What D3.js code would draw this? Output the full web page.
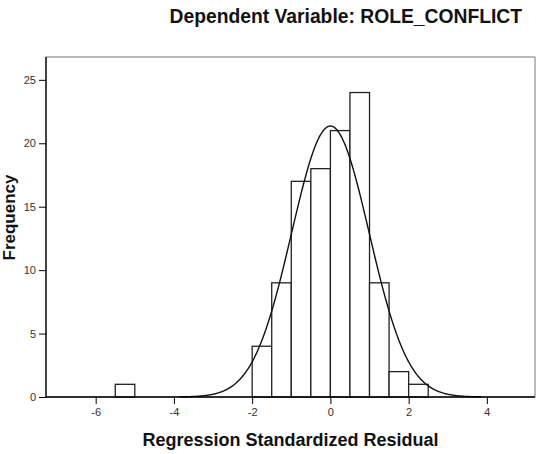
<!DOCTYPE html>
<html>
<head>
<meta charset="utf-8">
<script src="https://cdn.jsdelivr.net/npm/d3@7"></script>
<style>
  body { margin: 0; background: #fff; }
  svg { display: block; font-family: 'Liberation Sans', Arial, sans-serif; }
  .tick text { fill: #333; font-size: 11px; }
</style>
</head>
<body>
<svg width="549" height="454"></svg>
<script>
// histogram bins (lower edge, upper edge) and counts
var binStarts = [-5.5, -2, -1.5, -1, -0.5, 0, 0.5, 1, 1.5, 2];
var binEnds = [-5, -1.5, -1, -0.5, 0, 0.5, 1, 1.5, 2, 2.5];
var counts = [1, 4, 9, 17, 18, 21, 24, 9, 2, 1];
var xTicks = [-6, -4, -2, 0, 2, 4];
var yTicks = [0, 5, 10, 15, 20, 25];
var curveMean = 0;
var curveSd = 0.99;
var curveN = 106;
var binWidth = 0.5;

var svg = d3.select('svg');

var plotLeft = 46, plotRight = 535, plotTop = 57, plotBottom = 397;

var x = d3.scaleLinear().domain([-7.27, 5.23]).range([plotLeft, plotRight]);
var y = d3.scaleLinear().domain([0, 26.8]).range([plotBottom, plotTop]);

// frame
svg.append('rect')
  .attr('x', plotLeft).attr('y', plotTop)
  .attr('width', plotRight - plotLeft).attr('height', plotBottom - plotTop)
  .attr('fill', 'none').attr('stroke', '#777').attr('stroke-width', 1);

var bins = counts.map((c, i) => ({ x0: binStarts[i], x1: binEnds[i], n: c }));

svg.append('g').selectAll('rect')
  .data(bins)
  .enter()
  .append('rect')
  .attr('x', (d) => x(d.x0))
  .attr('y', (d) => y(d.n))
  .attr('width', (d) => x(d.x1) - x(d.x0))
  .attr('height', (d) => y(0) - y(d.n))
  .attr('fill', '#fff')
  .attr('stroke', '#222')
  .attr('stroke-width', 1.3);

// normal curve
var pts = d3.range(-3.87, 3.871, 0.02).map((v) => {
  var z = (v - curveMean) / curveSd;
  return [v, curveN * binWidth * Math.exp(-0.5 * z * z) / (curveSd * Math.sqrt(2 * Math.PI))];
});

svg.append('path')
  .datum(pts)
  .attr('fill', 'none')
  .attr('stroke', '#111')
  .attr('stroke-width', 1.4)
  .attr('d', d3.line().x((d) => x(d[0])).y((d) => y(d[1])));

// axes
svg.append('g')
  .attr('transform', `translate(0, ${plotBottom})`)
  .call(d3.axisBottom(x).tickValues(xTicks).tickFormat((d) => String(d)).tickSize(7).tickPadding(4))
  .call((g) => g.select('.domain').attr('stroke', '#000').attr('stroke-width', 1.5).attr('d', `M${plotLeft},0H${plotRight}`));

svg.append('g')
  .attr('transform', `translate(${plotLeft}, 0)`)
  .call(d3.axisLeft(y).tickValues(yTicks).tickFormat((d) => String(d)).tickSize(7).tickPadding(3))
  .call((g) => g.select('.domain').attr('stroke', '#000').attr('stroke-width', 1.3).attr('d', `M0,${plotTop}V${plotBottom}`));

// labels
svg.append('text')
  .attr('x', 522)
  .attr('y', 23)
  .attr('text-anchor', 'end')
  .attr('font-size', 19.3)
  .attr('font-weight', 'bold')
  .attr('fill', '#111')
  .text('Dependent Variable: ROLE_CONFLICT');

svg.append('text')
  .attr('x', 290.5)
  .attr('y', 446)
  .attr('text-anchor', 'middle')
  .attr('font-size', 18)
  .attr('font-weight', 'bold')
  .attr('fill', '#111')
  .text('Regression Standardized Residual');

svg.append('text')
  .attr('transform', 'translate(15, 217.5) rotate(-90)')
  .attr('text-anchor', 'middle')
  .attr('font-size', 17)
  .attr('font-weight', 'bold')
  .attr('fill', '#111')
  .text('Frequency');
</script>
</body>
</html>
